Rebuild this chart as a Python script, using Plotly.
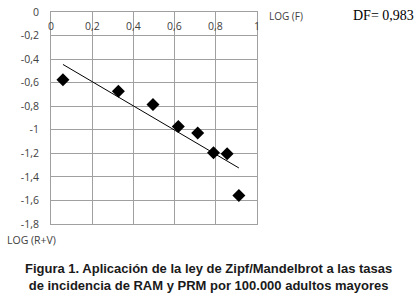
import numpy as np
import plotly.graph_objects as go

# Data
log_f = [0.058, 0.327, 0.495, 0.618, 0.712, 0.789, 0.855, 0.912]
log_rv = [-0.575, -0.673, -0.786, -0.972, -1.028, -1.194, -1.203, -1.558]

x_tick_vals = [0, 0.2, 0.4, 0.6, 0.8, 1]
x_tick_labels = ["0", "0,2", "0,4", "0,6", "0,8", "1"]
y_tick_vals = [0, -0.2, -0.4, -0.6, -0.8, -1, -1.2, -1.4, -1.6, -1.8]
y_tick_labels = ["0", "-0,2", "-0,4", "-0,6", "-0,8", "-1", "-1,2", "-1,4", "-1,6", "-1,8"]

caption = ("<b>Figura 1. Aplicación de la ley de Zipf/Mandelbrot a las tasas<br>"
           "de incidencia de RAM y PRM por 100.000 adultos mayores</b>")
df_text = "DF= 0,983"

# Linear trend line (least squares)
slope, intercept = np.polyfit(log_f, log_rv, 1)
trend_x = [min(log_f), max(log_f)]
trend_y = [slope * v + intercept for v in trend_x]

W, H = 416, 297
ML, MR, MT, MB = 51, 159, 12, 73
plot_w = W - ML - MR
plot_h = H - MT - MB


def px_x(p):
    return (p - ML) / plot_w


def px_y(p):
    return (H - MB - p) / plot_h


grid = "#a0a0a0"
sans = "Open Sans, Liberation Sans, sans-serif"
tick_font = dict(family=sans, size=10.5, color="#404040")

fig = go.Figure()
fig.add_trace(go.Scatter(x=trend_x, y=trend_y, mode="lines",
                         line=dict(color="black", width=1), showlegend=False))
fig.add_trace(go.Scatter(x=log_f, y=log_rv, mode="markers",
                         marker=dict(symbol="diamond", size=10, color="black"),
                         showlegend=False))

annotations = []
for v, t in zip(x_tick_vals, x_tick_labels):
    annotations.append(dict(text=t, x=v, xref="x", y=px_y(26), yref="paper",
                            xanchor="center", yanchor="middle", showarrow=False,
                            font=tick_font))
annotations += [
    dict(text="LOG (F)", xref="paper", yref="paper", x=px_x(267), y=px_y(16),
         xanchor="left", yanchor="middle", showarrow=False,
         font=dict(family=sans, size=10, color="#404040")),
    dict(text="LOG (R+V)", xref="paper", yref="paper", x=px_x(5), y=px_y(240),
         xanchor="left", yanchor="middle", showarrow=False,
         font=dict(family=sans, size=10.5, color="#404040")),
    dict(text=df_text, xref="paper", yref="paper", x=px_x(383), y=px_y(15),
         xanchor="center", yanchor="middle", showarrow=False,
         font=dict(family="Liberation Serif, Times New Roman, serif", size=14, color="black")),
    dict(text=caption, xref="paper", yref="paper", x=px_x(208), y=px_y(277),
         xanchor="center", yanchor="middle", showarrow=False, align="center",
         font=dict(family="Liberation Sans, Arial, sans-serif", size=13, color="#1a1a1a")),
]

fig.update_layout(
    width=W, height=H,
    margin=dict(l=ML, r=MR, t=MT, b=MB, autoexpand=False),
    paper_bgcolor="white", plot_bgcolor="white",
    xaxis=dict(range=[0, 1], side="top", tickvals=x_tick_vals, showticklabels=False,
               showgrid=True, gridcolor=grid, gridwidth=1, automargin=False,
               showline=True, linecolor=grid, mirror=True, zeroline=False, ticks=""),
    yaxis=dict(range=[-1.8, 0], tickvals=y_tick_vals, ticktext=y_tick_labels,
               showgrid=True, gridcolor=grid, gridwidth=1, automargin=False,
               showline=True, linecolor=grid, mirror=True, zeroline=False,
               tickfont=tick_font, ticks="", ticklabelstandoff=9),
    annotations=annotations,
)

fig.write_html("out.html",
               config={"displayModeBar": False},
               post_script="document.body.style.margin='0';document.body.style.overflow='hidden';")
